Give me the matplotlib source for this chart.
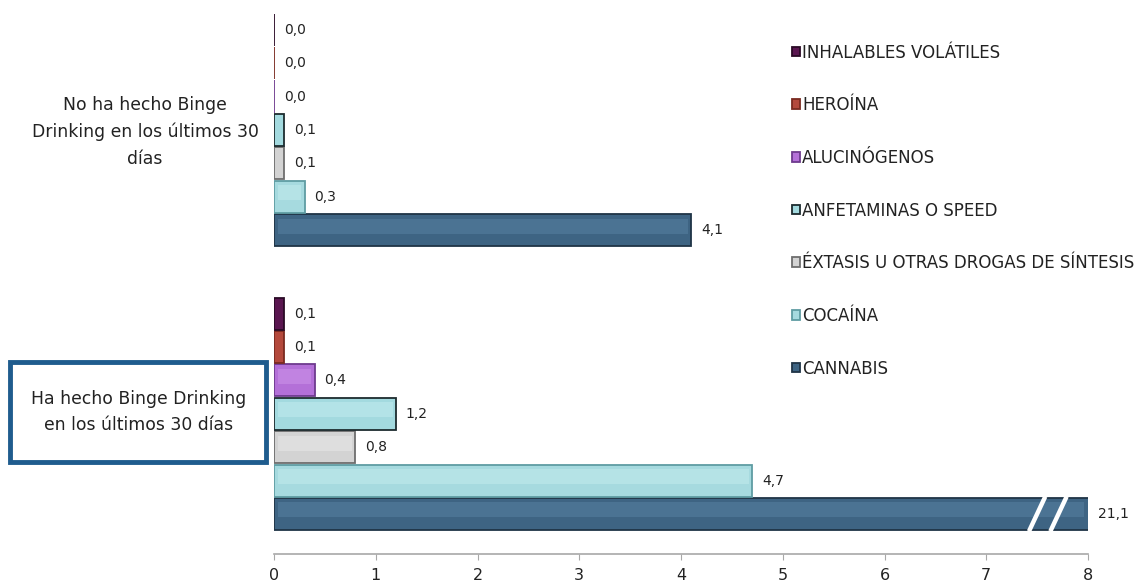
import matplotlib
matplotlib.use("Agg")
import matplotlib.pyplot as plt
from matplotlib.patches import Rectangle

plt.rcParams['font.family'] = ['DejaVu Sans']

# Groups (bottom to top on the chart)
groups = ["Ha hecho Binge Drinking\nen los últimos 30 días",
          "No ha hecho Binge\nDrinking en los últimos 30\ndías"]

# Substances, drawn bottom to top inside each group
substances = ["CANNABIS", "COCAÍNA", "ÉXTASIS U OTRAS DROGAS DE SÍNTESIS",
              "ANFETAMINAS O SPEED", "ALUCINÓGENOS", "HEROÍNA",
              "INHALABLES VOLÁTILES"]

# Percentages per substance: [Ha hecho, No ha hecho]
cannabis = [21.1, 4.1]
cocaina = [4.7, 0.3]
extasis = [0.8, 0.1]
anfetaminas = [1.2, 0.1]
alucinogenos = [0.4, 0.0]
heroina = [0.1, 0.0]
inhalables = [0.1, 0.0]
series = [cannabis, cocaina, extasis, anfetaminas, alucinogenos, heroina, inhalables]

x_ticks = [0, 1, 2, 3, 4, 5, 6, 7, 8]

# face, edge, highlight colours per substance
face = ["#3E6483", "#A6DADF", "#D3D3D3", "#A3DADF", "#B470D8", "#B4493C", "#5A1650"]
edge = ["#1F3446", "#5F9CA3", "#6E6E6E", "#1C2B2E", "#6E3A8E", "#7A2A20", "#2A0A25"]
light = ["#5C87A8", "#C9EEF0", "#EDEDED", "#C8EEF1", "#D29CEE", "#D47066", "#7E3272"]

W, H = 1142, 585
fig = plt.figure(figsize=(W / 100, H / 100), dpi=100)
ax = fig.add_axes([274 / W, 31 / H, 814 / W, 554 / H])

group_gap = 8.5
xmax = 8
bar_h = 0.96
handles = []
for j, (name, vals) in enumerate(zip(substances, series)):
    ys = [g * group_gap + j for g in range(len(groups))]
    b = ax.barh(ys, vals, height=bar_h, color=face[j], edgecolor=edge[j],
                linewidth=1.3, label=name, zorder=2)
    handles.append(b)
    # inner highlight band for a bevelled look
    for y, v in zip(ys, vals):
        vis = min(v, xmax)
        if vis > 0.15:
            ax.barh(y + 0.12, vis - 0.07, left=0.035, height=0.45,
                    color=light[j], linewidth=0, alpha=0.45, zorder=3)
        txt = f"{v:.1f}".replace(".", ",")
        ax.annotate(txt, (vis, y), xytext=(7, 0), textcoords="offset points",
                    va="center", ha="left", fontsize=10, color="#222222",
                    annotation_clip=False)

# break marks on the truncated bar
for x0 in (7.42, 7.63):
    ax.plot([x0, x0 + 0.16], [-0.52, 0.52], color="white", lw=3.2,
            solid_capstyle="butt", zorder=4)

ax.set_xlim(0, xmax)
ax.set_ylim(-1.2, 15.39)
ax.set_xticks(x_ticks)
ax.set_xticklabels([str(t) for t in x_ticks], fontsize=11.5, color="#222222")
ax.set_yticks([])
for s in ("top", "right", "left"):
    ax.spines[s].set_visible(False)
ax.spines["bottom"].set_color("#A8A8A8")
ax.spines["bottom"].set_linewidth(1.2)
ax.tick_params(axis="x", direction="out", length=4, color="#A8A8A8", pad=6)

# group labels
fig.text(145 / W, 1 - 132 / H, groups[1], ha="center", va="center",
         fontsize=12.4, color="#222222", linespacing=1.6)
fig.text(139 / W, 1 - 412 / H, groups[0], ha="center", va="center",
         fontsize=12.4, color="#222222", linespacing=1.6)
fig.patches.append(Rectangle((10 / W, 1 - 462 / H), 256 / W, 100 / H,
                             transform=fig.transFigure, fill=False,
                             edgecolor="#1F5C8E", linewidth=3.5))

# legend, top entry first
leg = fig.legend(handles[::-1], substances[::-1], loc="upper left",
                 bbox_to_anchor=(792 / W, 1 - 43.5 / H), frameon=False,
                 fontsize=12, labelspacing=2.08, handlelength=0.5,
                 handleheight=0.5, handletextpad=0.12, borderpad=0,
                 borderaxespad=0)
for t in leg.get_texts():
    t.set_color("#222222")

fig.savefig("out.png", dpi=100)
